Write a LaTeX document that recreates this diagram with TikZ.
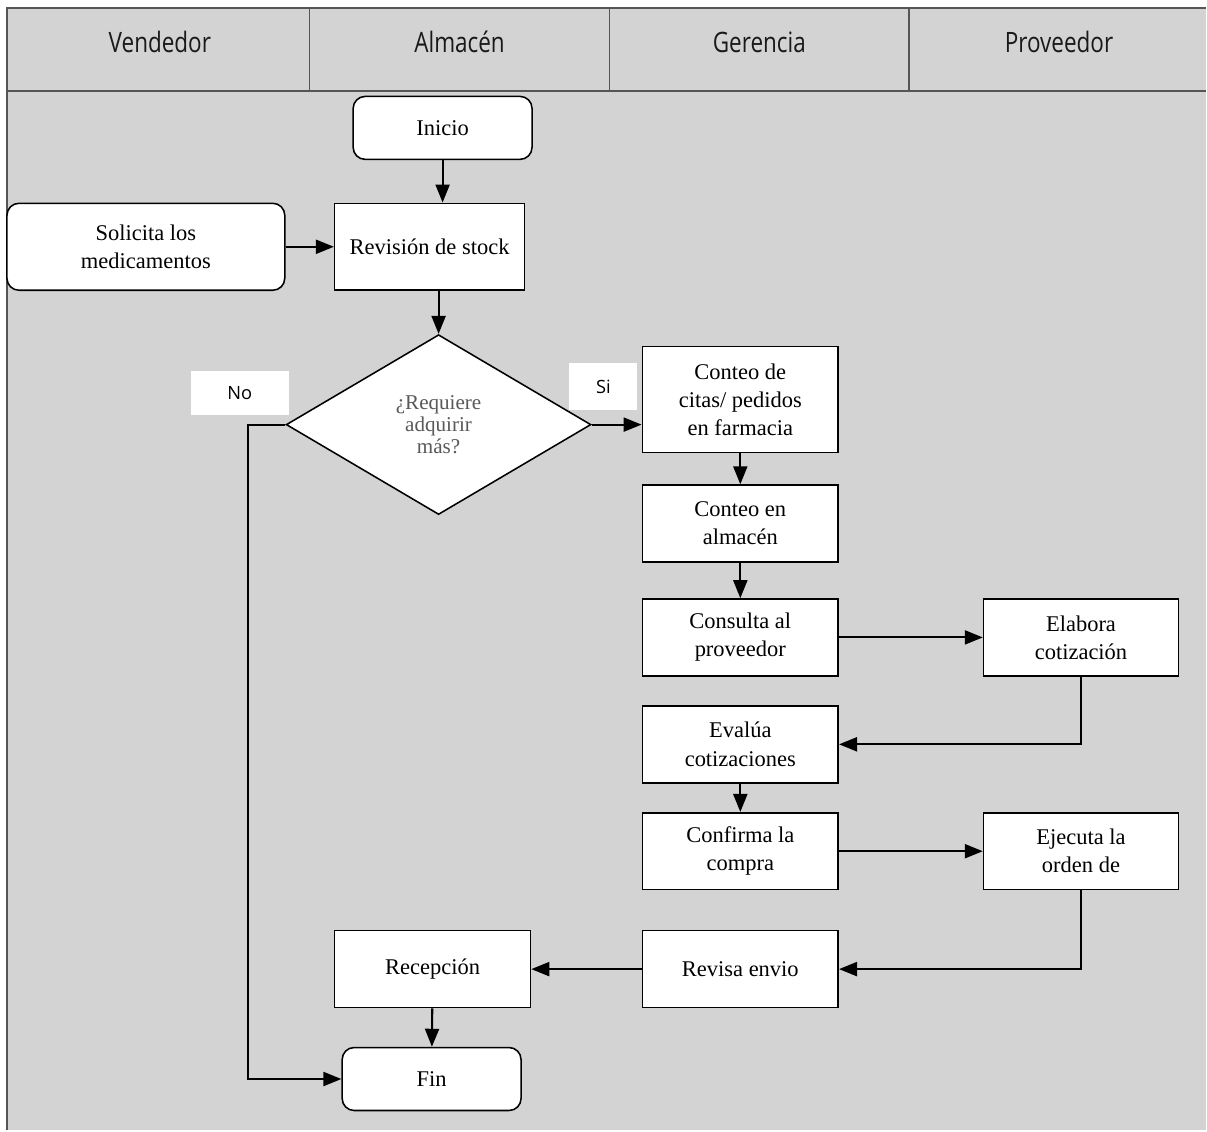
\documentclass[tikz,border=0pt]{standalone}
\usepackage{fontspec}
\setmainfont{Liberation Serif}
\newfontfamily\headfont[FakeStretch=0.8]{Open Sans}
\newfontfamily\tagfont{Open Sans}
\usetikzlibrary{shapes.geometric,arrows.meta}
\definecolor{lanegray}{RGB}{211,211,211}
\definecolor{framegray}{RGB}{85,85,85}

\begin{document}
\begin{tikzpicture}[x=0.025cm, y=-0.025cm,
  box/.style={draw, rectangle, fill=white, line width=1.1pt, align=center, inner sep=2pt,
    font=\fontsize{16}{20}\selectfont, minimum width=4.9cm, minimum height=1.925cm},
  term/.style={box, rounded corners=0.3cm, minimum width=4.475cm, minimum height=1.575cm},
  decision/.style={draw, diamond, fill=white, line width=1.1pt, align=center, aspect=1.7, inner sep=1pt,
    minimum width=7.625cm, minimum height=4.5cm, text=black!65, font=\fontsize{15}{15.5}\selectfont},
  tag/.style={fill=white, font=\tagfont\fontsize{13}{15}\selectfont},
  lane/.style={text=black!90, font=\headfont\fontsize{20}{24}\selectfont},
  arr/.style={-{Triangle[length=4.5mm,width=3.5mm]}, line width=1.5pt}]

% lanes
\fill[white] (0,0) rectangle (1207,1131);
\fill[lanegray] (7,8) rectangle (1207,1131);
\draw[framegray, line width=1.6pt] (1207,8) -- (7,8) -- (7,1131);
\draw[framegray, line width=1.6pt] (7,91) -- (1207,91);
\foreach \x in {310,610,910} \draw[framegray, line width=1pt] (\x,8) -- (\x,91);
\node (vendedor) [lane] at (160,42) {Vendedor};
\node (almacen) [lane] at (460,42) {Almacén};
\node (gerencia) [lane] at (760,42) {Gerencia};
\node (proveedor) [lane] at (1060,42) {Proveedor};

% nodes
\node (inicio) [term] at (443,128) {Inicio};
\node (revision) [box, minimum width=4.75cm, minimum height=2.175cm] at (430,247) {Revisión de stock};
\node (solicita) [term, minimum width=6.95cm, minimum height=2.175cm] at (146,247) {Solicita los\\medicamentos};
\node (requiere) [decision] at (439,425) {¿Requiere\\adquirir\\más?};
\node (conteocitas) [box, minimum height=2.65cm] at (741,400) {Conteo de\\citas/ pedidos\\en farmacia};
\node (conteoalm) [box] at (741,524) {Conteo en\\almacén};
\node (consulta) [box] at (741,638) {Consulta al\\proveedor};
\node (elabora) [box, minimum width=4.875cm] at (1082,638) {Elabora\\cotización};
\node (evalua) [box] at (741,745) {Evalúa\\cotizaciones};
\node (confirma) [box] at (741,852) {Confirma la\\compra};
\node (ejecuta) [box, minimum width=4.875cm] at (1082,852) {Ejecuta la\\orden de};
\node (revisa) [box] at (741,970) {Revisa envio};
\node (recepcion) [box] at (433,970) {Recepción};
\node (fin) [term] at (432,1080) {Fin};
\node (no) [tag, minimum width=2.45cm, minimum height=1.1cm] at (240,393) {No};
\node (si) [tag, minimum width=1.7cm, minimum height=1.175cm] at (604,387) {Si};
\coordinate (nobend) at (248,425);

% arrows
\draw[arr] (inicio.south) -- (inicio.south |- revision.north);
\draw[arr] (solicita) -- (revision);
\draw[arr] (revision.south -| requiere.north) -- (requiere.north);
\draw[arr] (requiere.east) -- (requiere.east -| conteocitas.west);
\draw[arr] (requiere.west) -- (nobend) |- (fin.west);
\draw[arr] (conteocitas) -- (conteoalm);
\draw[arr] (conteoalm) -- (consulta);
\draw[arr] (consulta) -- (elabora);
\draw[arr] (elabora.south) |- (evalua.east);
\draw[arr] (evalua) -- (confirma);
\draw[arr] (confirma) -- (ejecuta);
\draw[arr] (ejecuta.south) |- (revisa.east);
\draw[arr] (revisa) -- (recepcion);
\draw[arr] (recepcion) -- (fin);
\end{tikzpicture}
\end{document}
